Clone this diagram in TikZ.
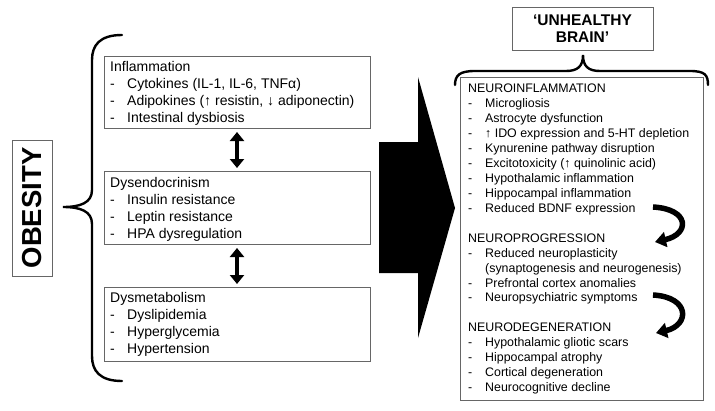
\documentclass[tikz,border=0pt]{standalone}
\usepackage{fontspec}
\setmainfont{Liberation Sans}
\usetikzlibrary{arrows.meta}
\begin{document}
\begin{tikzpicture}[x=1pt,y=-1pt,
 box/.style={draw=black!60, line width=0.9pt, rectangle, inner sep=0pt, outer sep=0pt},
 txtL/.style={inner sep=0pt, anchor=north west, font=\fontsize{14}{17}\selectfont},
 txtR/.style={inner sep=0pt, anchor=north west, font=\fontsize{12.4}{14.95}\selectfont},
 brace/.style={line width=2.4pt, line cap=round},
 dblarrow/.style={line width=4.5pt, {Triangle[width=14pt,length=9pt]}-{Triangle[width=14pt,length=9pt]}, shorten <=4pt, shorten >=3pt},
 curvarrow/.style={line width=5.5pt, -{Triangle[width=15pt,length=11pt]}}]
\fill[white] (0,0) rectangle (715,410);
\useasboundingbox (0,0) rectangle (715,410);

% OBESITY
\node[box, rotate=90, minimum width=136pt, minimum height=40pt, font=\bfseries\fontsize{27.5}{30}\selectfont] (obes) at (32,208) {OBESITY};

% left brace
\draw[brace] (122,35) .. controls (100,35) and (92,45) .. (92,60) -- (92,190)
  .. controls (92,203) and (80,207) .. (63,207)
  .. controls (80,207) and (92,211) .. (92,224) -- (92,356)
  .. controls (92,371) and (100,381) .. (122,381);

% left boxes
\node[box, minimum width=266pt, minimum height=72pt] (b1) at (237,92) {};
\node[box, minimum width=266pt, minimum height=73pt] (b2) at (237,207.5) {};
\node[box, minimum width=266pt, minimum height=74pt] (b3) at (237,324) {};

\node[txtL] (t1) at ([xshift=6pt,yshift=-3pt]b1.north west) {\begin{tabular}{@{}p{17pt}@{}l@{}}
\multicolumn{2}{@{}l@{}}{Inflammation}\\
-& Cytokines (IL-1, IL-6, TNFα)\\
-& Adipokines (↑ resistin, ↓ adiponectin)\\
-& Intestinal dysbiosis
\end{tabular}};
\node[txtL] (t2) at ([xshift=6pt,yshift=-4pt]b2.north west) {\begin{tabular}{@{}p{17pt}@{}l@{}}
\multicolumn{2}{@{}l@{}}{Dysendocrinism}\\
-& Insulin resistance\\
-& Leptin resistance\\
-& HPA dysregulation
\end{tabular}};
\node[txtL] (t3) at ([xshift=6pt,yshift=-3pt]b3.north west) {\begin{tabular}{@{}p{17pt}@{}l@{}}
\multicolumn{2}{@{}l@{}}{Dysmetabolism}\\
-& Dyslipidemia\\
-& Hyperglycemia\\
-& Hypertension
\end{tabular}};

\draw[dblarrow] (b1.south) -- (b2.north);
\draw[dblarrow] (b2.south) -- (b3.north);

% big arrow
\fill[black] (379,142) -- (418,142) -- (418,77) -- (455,208) -- (418,338) -- (418,273) -- (379,273) -- cycle;

% unhealthy brain
\node[box, minimum width=141pt, minimum height=43pt, align=center, font=\bfseries\fontsize{15.5}{17}\selectfont] (ub) at (582.5,28.5) {‘UNHEALTHY\\BRAIN’};

% top brace
\draw[brace] (455,85) .. controls (455,75) and (460,71) .. (475,71) -- (566,71)
  .. controls (578,71) and (583,66) .. (583,55)
  .. controls (583,66) and (588,71) .. (600,71) -- (690,71)
  .. controls (705,71) and (708,75) .. (708,85);

% right box
\node[box, minimum width=243pt, minimum height=323pt] (rb) at (581.5,238.5) {};
\node[txtR] (rt) at ([xshift=8pt,yshift=-5pt]rb.north west) {\begin{tabular}{@{}p{17pt}@{}l@{}}
\multicolumn{2}{@{}l@{}}{NEUROINFLAMMATION}\\
-& Microgliosis\\
-& Astrocyte dysfunction\\
-& ↑ IDO expression and 5-HT depletion\\
-& Kynurenine pathway disruption\\
-& Excitotoxicity (↑ quinolinic acid)\\
-& Hypothalamic inflammation\\
-& Hippocampal inflammation\\
-& Reduced BDNF expression\\[14.95pt]
\multicolumn{2}{@{}l@{}}{NEUROPROGRESSION}\\
-& Reduced neuroplasticity\\
 & (synaptogenesis and neurogenesis)\\
-& Prefrontal cortex anomalies\\
-& Neuropsychiatric symptoms\\[14.95pt]
\multicolumn{2}{@{}l@{}}{NEURODEGENERATION}\\
-& Hypothalamic gliotic scars\\
-& Hippocampal atrophy\\
-& Cortical degeneration\\
-& Neurocognitive decline
\end{tabular}};

% curved arrows
\coordinate (c1s) at (653,207);
\coordinate (c1e) at (655,242);
\coordinate (c2s) at (653,295);
\coordinate (c2e) at (656,333);
\draw[curvarrow] (c1s) .. controls (690,209) and (690,234) .. (c1e);
\draw[curvarrow] (c2s) .. controls (690,297) and (690,325) .. (c2e);
\end{tikzpicture}
\end{document}
